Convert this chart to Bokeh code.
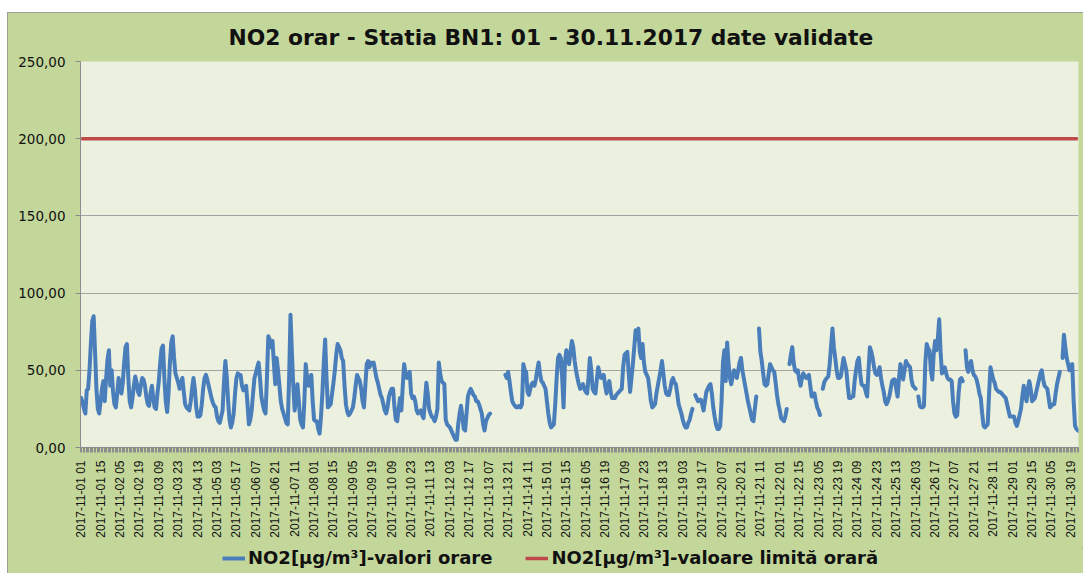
import math
import numpy as np
from bokeh.plotting import figure
from bokeh.layouts import column, row
from bokeh.models import Range1d, FixedTicker, Legend, LegendItem, Title, Spacer
from bokeh.embed import file_html
from bokeh.resources import INLINE

TITLE = "NO2 orar - Statia BN1: 01 - 30.11.2017 date validate"
SERIES_NAME = "NO2[µg/m³]-valori orare"
LIMIT_NAME = "NO2[µg/m³]-valoare limită orară"
LIMIT_VALUE = 200.0
Y_TICKS = [0, 50, 100, 150, 200, 250]
Y_TICK_LABELS = ["0,00", "50,00", "100,00", "150,00", "200,00", "250,00"]
DAYS = ["2017-11-%02d" % d for d in range(1, 31)]
HOURS = ["%02d" % h for h in range(1, 25)]
LABEL_EVERY = 14

# hourly NO2 values (µg/m³), one list per day, hours 01..24 ; None = missing
d01 = [32, 29, 25, 22, 37, 38, 50, 68, 82, 85, 62, 38, 25, 22, 30, 38, 43, 30, 45, 57, 63, 40, 50, 36]
d02 = [28, 26, 35, 45, 40, 35, 42, 55, 65, 67, 45, 30, 26, 32, 40, 46, 42, 36, 34, 40, 45, 44, 40, 33]
d03 = [28, 27, 35, 40, 32, 26, 25, 35, 43, 55, 64, 66, 45, 30, 23, 35, 55, 68, 72, 58, 48, 45, 42, 38]
d04 = [42, 45, 36, 28, 26, 25, 24, 30, 38, 45, 38, 26, 20, 20, 21, 28, 38, 45, 47, 44, 40, 36, 32, 29]
d05 = [27, 26, 20, 17, 16, 20, 24, 42, 56, 46, 30, 18, 13, 16, 22, 35, 45, 48, 47, 47, 40, 37, 38, 40]
d06 = [28, 15, 18, 24, 35, 45, 48, 52, 55, 45, 33, 28, 24, 22, 45, 72, 70, 65, 69, 55, 41, 58, 50, 40]
d07 = [30, 25, 22, 19, 16, 15, 45, 86, 62, 40, 24, 32, 41, 30, 18, 15, 13, 30, 54, 45, 40, 44, 47, 30]
d08 = [18, 17, 17, 12, 9, 20, 35, 55, 70, 45, 26, 27, 28, 35, 42, 50, 60, 67, 65, 63, 58, 56, 40, 28]
d09 = [23, 21, 22, 24, 26, 32, 40, 47, 45, 43, 38, 30, 26, 40, 54, 56, 52, 55, 54, 55, 50, 45, 42, 38]
d10 = [34, 32, 28, 24, 22, 26, 33, 36, 38, 38, 26, 18, 17, 25, 32, 24, 40, 54, 48, 45, 47, 49, 35, 32]
d11 = [33, 30, 24, 22, 23, 24, 21, 19, 30, 42, 35, 25, 22, 20, 19, 17, 20, 25, 55, 48, 43, 42, 41, 18]
d12 = [15, 14, 13, 11, 9, 7, 5, 5, 15, 22, 27, 20, 12, 11, 22, 33, 36, 38, 36, 34, 33, 30, 30, 28]
d13 = [25, 22, 15, 11, 17, 19, 21, 22, None, None, None, None, None, None, None, None, None, None, 47, 45, 49, 43, 36, 30]
d14 = [28, 27, 26, 26, 27, 26, 28, 54, 50, 49, 36, 34, 38, 41, 42, 40, 44, 50, 55, 48, 43, 42, 40, 38]
d15 = [30, 22, 16, 13, 14, 15, 28, 45, 58, 60, 58, 45, 26, 55, 63, 58, 54, 62, 69, 65, 56, 50, 45, 41]
d16 = [38, 39, 41, 38, 36, 35, 45, 58, 50, 38, 36, 35, 44, 52, 48, 45, 46, 47, 40, 35, 40, 43, 36, 32]
d17 = [32, 32, 34, 35, 36, 37, 38, 52, 60, 61, 62, 48, 36, 45, 54, 65, 76, 70, 77, 62, 58, 67, 55, 49]
d18 = [47, 45, 38, 30, 26, 27, 28, 35, 40, 45, 50, 56, 48, 40, 35, 34, 34, 38, 43, 45, 42, 41, 35, 28]
d19 = [25, 22, 18, 15, 13, 13, 16, 18, 22, 25, None, 34, 32, 30, 31, 31, 28, 24, 30, 36, 38, 40, 41, 35]
d20 = [26, 20, 15, 12, 12, 14, 30, 55, 63, 43, 68, 55, 45, 41, 46, 50, 48, 45, 50, 55, 58, 50, 45, 40]
d21 = [35, 30, 26, 22, 18, 17, 25, 33, None, 77, 62, 56, 48, 41, 40, 41, 48, 54, 52, 50, 49, 42, 34, 28]
d22 = [24, 19, 18, 17, 20, 25, None, 54, 60, 65, 55, 50, 49, 50, 44, 40, 45, 48, 46, 45, 46, 47, 40, 33]
d23 = [34, 35, 30, 26, 24, 21, None, 38, 42, 44, 45, 46, 54, 66, 77, 65, 58, 50, 45, 45, 46, 52, 58, 54]
d24 = [50, 40, 32, 32, 33, 33, 43, 50, 56, 58, 48, 41, 40, 40, 36, 33, 50, 65, 62, 58, 52, 48, 47, 49]
d25 = [52, 45, 40, 36, 30, 28, 30, 33, 38, 43, 44, 44, 38, 33, 45, 54, 50, 44, 50, 56, 54, 53, 52, 44]
d26 = [40, 39, 38, None, 33, 27, 26, 26, 27, 55, 67, 64, 63, 50, 44, 60, 69, 63, 70, 83, 62, 48, 50, 52]
d27 = [48, 45, 44, 44, 43, 30, 22, 20, 21, 35, 44, 45, 43, None, 63, 52, 49, 54, 56, 50, 47, 46, 44, 40]
d28 = [35, 32, 22, 14, 13, 14, 15, 35, 52, 48, 44, 42, 38, 37, 36, 36, 35, 34, 33, 32, 28, 24, 20, 20]
d29 = [20, 20, 16, 14, 17, 21, 25, 33, 40, 35, 30, 38, 43, 38, 30, 31, 32, 36, 40, 44, 48, 50, 44, 40]
d30 = [39, 38, 32, 26, 27, 28, 28, 35, 41, 45, 49, None, 58, 73, 65, 58, 54, 50, 53, 54, 30, 14, 12, 11]

day_lists = [d01, d02, d03, d04, d05, d06, d07, d08, d09, d10, d11, d12, d13, d14, d15,
             d16, d17, d18, d19, d20, d21, d22, d23, d24, d25, d26, d27, d28, d29, d30]
hourly = [v for day in day_lists for v in day]
values = np.array([np.nan if v is None else float(v) for v in hourly])
categories = [day + " " + hour for day in DAYS for hour in HOURS]
n = len(values)
x = np.arange(n) + 0.5
limit = np.full(n, LIMIT_VALUE)

OUTER_BG = "#c4d79b"
PLOT_BG = "#ebf1de"
BLUE = "#4a7ebb"
RED = "#be4b48"
GRID = "#a3a3a3"
AXIS = "#8c8c8c"
TEXT = "#111111"
FONT = "DejaVu Sans"
W = 1076
BORDER_L = 73
BORDER_R = 5

p = figure(width=W, height=535, output_backend="svg", toolbar_location=None,
           x_range=Range1d(0, n), y_range=Range1d(0, 250),
           min_border_left=BORDER_L, min_border_right=BORDER_R, min_border_top=48, min_border_bottom=100)
p.border_fill_color = OUTER_BG
p.background_fill_color = PLOT_BG
p.outline_line_color = None

r_limit = p.line(x, limit, line_color=RED, line_width=3.5)
r_no2 = p.line(x, values, line_color=BLUE, line_width=4, line_join="round", line_cap="round")

# y axis
p.yaxis.ticker = FixedTicker(ticks=Y_TICKS, minor_ticks=[])
p.yaxis.major_label_overrides = dict(zip(Y_TICKS, Y_TICK_LABELS))
p.yaxis.major_label_text_font = FONT
p.yaxis.major_label_text_font_size = "13.5px"
p.yaxis.major_label_text_color = TEXT
p.yaxis.major_label_standoff = 10
p.yaxis.major_tick_out = 5
p.yaxis.major_tick_in = 0
p.yaxis.axis_line_color = AXIS
p.yaxis.major_tick_line_color = AXIS
p.ygrid.ticker = FixedTicker(ticks=Y_TICKS, minor_ticks=[])
p.ygrid.grid_line_color = GRID
p.xgrid.grid_line_color = None

# x axis
tick_idx = list(range(0, n, LABEL_EVERY))
x_ticks = [i + 0.5 for i in tick_idx]
p.xaxis.ticker = FixedTicker(ticks=x_ticks, minor_ticks=list(range(0, n + 1)))
p.xaxis.major_label_overrides = {i + 0.5: categories[i] for i in tick_idx}
p.xaxis.major_label_orientation = math.pi / 2
p.xaxis.major_label_text_font = "Liberation Sans"
p.xaxis.major_label_text_font_size = "12px"
p.xaxis.major_label_text_color = TEXT
p.xaxis.major_label_standoff = 8
p.xaxis.major_tick_out = 0
p.xaxis.major_tick_in = 0
p.xaxis.minor_tick_out = 5
p.xaxis.minor_tick_in = 0
p.xaxis.minor_tick_line_color = AXIS
p.xaxis.axis_line_color = AXIS

# title
title = Title(text=TITLE, align="left", offset=148, standoff=22, vertical_align="middle",
              text_font=FONT, text_font_size="21.8px", text_font_style="bold",
              text_color=TEXT)
p.add_layout(title, "above")

# legend strip below the chart (frame aligned with the main chart)
pl = figure(width=W, height=26, output_backend="svg", toolbar_location=None,
            x_range=Range1d(0, 1), y_range=Range1d(0, 1),
            min_border_left=BORDER_L, min_border_right=BORDER_R, min_border_top=0, min_border_bottom=0)
pl.border_fill_color = OUTER_BG
pl.background_fill_color = OUTER_BG
pl.outline_line_color = None
pl.axis.visible = False
pl.grid.visible = False
# legend-key renderers kept outside the visible range of the strip
lg_no2 = pl.line(x=[-3, -2], y=[-3, -3], line_color=BLUE, line_width=4)
lg_limit = pl.line(x=[-3, -2], y=[-3, -3], line_color=RED, line_width=3.5)
legend = Legend(items=[LegendItem(label=SERIES_NAME, renderers=[lg_no2]),
                       LegendItem(label=LIMIT_NAME, renderers=[lg_limit])],
                orientation="horizontal", location=(142, 5),
                label_text_font=FONT, label_text_font_size="18px", label_text_font_style="bold",
                label_text_color=TEXT, glyph_width=23, glyph_height=20, label_height=20,
                label_standoff=3, spacing=33, padding=0, margin=0,
                background_fill_alpha=0, border_line_color=None)
pl.add_layout(legend)

chart = column(p, pl, spacing=0,
               styles={"background-color": OUTER_BG, "outline": "1px solid #8f8f8f",
                       "outline-offset": "-1px"})
layout = column(Spacer(height=12), row(Spacer(width=7), chart, spacing=0), spacing=0)
open("out.html", "w").write(file_html(layout, INLINE))
